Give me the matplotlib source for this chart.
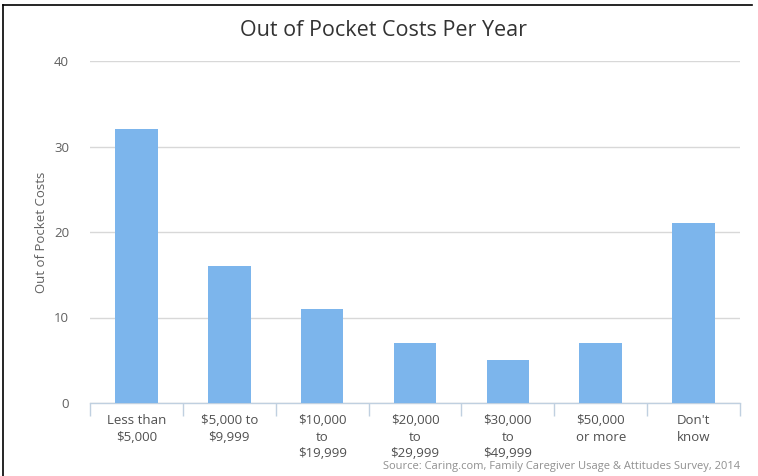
import matplotlib.pyplot as plt
from matplotlib.lines import Line2D
import numpy as np

plt.rcParams['font.family'] = ['Open Sans', 'DejaVu Sans']

categories = ["Less than\n$5,000", "$5,000 to\n$9,999", "$10,000\nto\n$19,999",
              "$20,000\nto\n$29,999", "$30,000\nto\n$49,999", "$50,000\nor more",
              "Don't\nknow"]
values = [32, 16, 11, 7, 5, 7, 21]
y_ticks = [0, 10, 20, 30, 40]

fig = plt.figure(figsize=(7.58, 4.76), dpi=100)
ax = fig.add_axes([90/758, 73/476, 650/758, 342/476])

x = np.arange(len(categories))
ax.bar(x, values, width=0.46, color="#7cb5ec", zorder=3)

ax.set_xlim(-0.5, len(categories) - 0.5)
ax.set_ylim(0, 40)
ax.set_yticks(y_ticks)
ax.set_yticklabels([str(t) for t in y_ticks], color="#606060", fontsize=9.5)
ax.yaxis.grid(True, color="#d8d8d8", linewidth=1, zorder=0)
ax.tick_params(axis="y", length=0, pad=15)

# category labels centred, ticks on the boundaries
ax.set_xticks(x)
ax.set_xticklabels(categories, color="#505050", fontsize=9.5, linespacing=1.35, va="top")
ax.tick_params(axis="x", which="major", length=0, pad=8)
ax.set_xticks(np.arange(len(categories) + 1) - 0.5, minor=True)
ax.tick_params(axis="x", which="minor", length=9, color="#c0d0e0", width=1)

for s in ["top", "right", "left"]:
    ax.spines[s].set_visible(False)
ax.spines["bottom"].set_color("#c0d0e0")
ax.spines["bottom"].set_linewidth(1)

ax.set_ylabel("Out of Pocket Costs", color="#606060", fontsize=9.5, labelpad=4)
fig.text(383/758, 1 - 30/476, "Out of Pocket Costs Per Year",
         ha="center", va="center", fontsize=15.5, color="#333333")
fig.text(740/758, 1 - 466/476, "Source: Caring.com, Family Caregiver Usage & Attitudes Survey, 2014",
         ha="right", va="center", fontsize=8, color="#909090")

# frame lines of the screenshot
fig.add_artist(Line2D([3/758, 752/758], [1 - 5/476, 1 - 5/476], color="black", linewidth=1.2))
fig.add_artist(Line2D([3/758, 3/758], [0, 1 - 5/476], color="black", linewidth=1.2))

fig.savefig("out.png", dpi=100)
